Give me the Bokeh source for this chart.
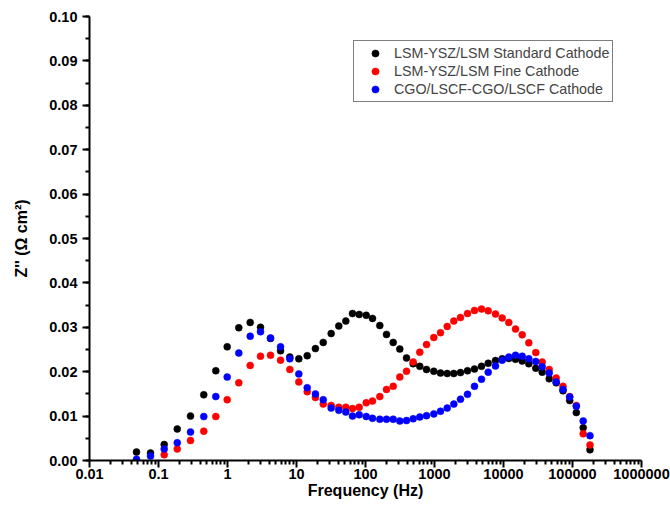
from bokeh.plotting import figure
from bokeh.models import Range1d, FixedTicker, SingleIntervalTicker, CustomJSTickFormatter, PrintfTickFormatter, Legend, LegendItem
from bokeh.embed import file_html
from bokeh.resources import INLINE

# Frequency grid (Hz)
freq = [0.048, 0.0766, 0.121, 0.187, 0.291, 0.453, 0.677, 0.990, 1.458, 2.133,
        3.008, 4.20, 5.87, 8.0, 10.8, 14.3, 18.8, 24.4, 31.8, 41.0,
        51.8, 64.8, 81.0, 102.4, 126.3, 161.2, 201.5, 252, 314, 393,
        491, 612, 766, 977, 1222, 1528, 1905, 2381, 3008, 3799,
        4799, 6001, 7656, 9572, 11935, 14925, 18660, 23270, 29380, 36390,
        45960, 58040, 72840, 91080, 113600, 142900, 179300]

z_standard = [0.0019, 0.0017, 0.0036, 0.0071, 0.0100, 0.0148, 0.0202, 0.0256, 0.0299, 0.0311,
              0.0300, 0.0275, 0.0247, 0.0233, 0.0229, 0.0236, 0.0252, 0.0266, 0.0286, 0.0303,
              0.0314, 0.0331, 0.0329, 0.0327, 0.0320, 0.0304, 0.0284, 0.0266, 0.0251, 0.0231,
              0.0218, 0.0212, 0.0205, 0.0201, 0.0197, 0.0196, 0.0196, 0.0198, 0.0202, 0.0206,
              0.0212, 0.0219, 0.0225, 0.0229, 0.0230, 0.0228, 0.0224, 0.0218, 0.0208, 0.0199,
              0.0184, 0.0175, 0.0157, 0.0135, 0.0108, 0.0074, 0.0024]

z_fine = [float("nan"), float("nan"), 0.0013, 0.0026, 0.0045, 0.0066, 0.0099, 0.0137, 0.0175, 0.0214,
          0.0235, 0.0237, 0.0226, 0.0205, 0.0177, 0.0155, 0.0142, 0.0127, 0.0124, 0.0120,
          0.0120, 0.0117, 0.0120, 0.0130, 0.0134, 0.0144, 0.0160, 0.0167, 0.0188, 0.0201,
          0.0222, 0.0244, 0.0261, 0.0277, 0.0288, 0.0302, 0.0314, 0.0322, 0.0331, 0.0338,
          0.0341, 0.0337, 0.0330, 0.0321, 0.0311, 0.0296, 0.0283, 0.0265, 0.0243, 0.0222,
          0.0205, 0.0186, 0.0167, 0.0144, 0.0124, 0.0060, 0.0035]

z_cgo = [0.0003, 0.0010, 0.0026, 0.0040, 0.0064, 0.0099, 0.0144, 0.0188, 0.0242, 0.0280,
         0.0290, 0.0276, 0.0256, 0.0229, 0.0195, 0.0164, 0.0150, 0.0137, 0.0118, 0.0113,
         0.0109, 0.0100, 0.0103, 0.0099, 0.0095, 0.0093, 0.0093, 0.0093, 0.0089, 0.0090,
         0.0094, 0.0098, 0.0101, 0.0105, 0.0111, 0.0118, 0.0127, 0.0138, 0.0149, 0.0167,
         0.0183, 0.0199, 0.0213, 0.0226, 0.0233, 0.0237, 0.0235, 0.0229, 0.0223, 0.0211,
         0.0197, 0.0177, 0.0160, 0.0143, 0.0122, 0.0089, 0.0056]

series_names = ["LSM-YSZ/LSM Standard Cathode", "LSM-YSZ/LSM Fine Cathode", "CGO/LSCF-CGO/LSCF Cathode"]
series_colors = ["#000000", "#ff0000", "#0000ff"]

x_major = [0.01, 0.1, 1, 10, 100, 1000, 10000, 100000, 1000000]

FONT = "Liberation Sans"

p = figure(width=670, height=525, x_axis_type="log",
           x_range=Range1d(0.01, 1e6), y_range=Range1d(0, 0.1),
           output_backend="svg", toolbar_location=None,
           min_border_left=89, min_border_right=29, min_border_top=16, min_border_bottom=65)
p.outline_line_color = None
p.xgrid.visible = False
p.ygrid.visible = False
p.background_fill_color = "white"
p.border_fill_color = "white"

renderers = []
for ys, c in zip([z_standard, z_fine, z_cgo], series_colors):
    r = p.scatter(freq, ys, size=7, marker="circle", fill_color=c, line_color=c, line_width=0.5)
    renderers.append(r)

minor = [m * 10.0 ** k for k in range(-2, 6) for m in range(2, 10)]
xa = p.xaxis[0]
xa.ticker = FixedTicker(ticks=x_major, minor_ticks=minor)
xa.formatter = CustomJSTickFormatter(code="return tick < 1 ? tick.toString() : tick.toFixed(0);")
ya = p.yaxis[0]
ya.ticker = SingleIntervalTicker(interval=0.01, num_minor_ticks=2)
ya.formatter = PrintfTickFormatter(format="%.2f")

for ax in (xa, ya):
    ax.axis_line_width = 2
    ax.axis_line_color = "black"
    ax.major_tick_line_width = 2
    ax.major_tick_line_color = "black"
    ax.minor_tick_line_width = 2
    ax.minor_tick_line_color = "black"
    ax.major_tick_in = 0
    ax.major_tick_out = 7
    ax.minor_tick_in = 0
    ax.minor_tick_out = 4
    ax.major_label_text_font = FONT
    ax.major_label_text_font_style = "bold"
    ax.major_label_text_font_size = "14.5px"
    ax.major_label_text_color = "black"
    ax.axis_label_text_font = FONT
    ax.axis_label_text_font_style = "bold"
    ax.axis_label_text_font_size = "16px"
    ax.axis_label_text_color = "black"

xa.axis_label = "Frequency (Hz)"
xa.major_label_standoff = 1
xa.axis_label_standoff = 0
ya.axis_label = "Z'' (Ω cm²)"
ya.major_label_standoff = 5
ya.axis_label_standoff = 16

legend = Legend(items=[LegendItem(label=n, renderers=[r]) for n, r in zip(series_names, renderers)],
                location=(264, 358))
legend.border_line_color = "black"
legend.border_line_width = 1.5
legend.background_fill_color = "white"
legend.label_text_font = FONT
legend.label_text_font_size = "14.3px"
legend.label_height = 18
legend.glyph_height = 18
legend.glyph_width = 36
legend.label_standoff = 1
legend.padding = 3
legend.spacing = 0
legend.margin = 0
p.add_layout(legend, "center")

open("out.html", "w").write(file_html(p, INLINE))
